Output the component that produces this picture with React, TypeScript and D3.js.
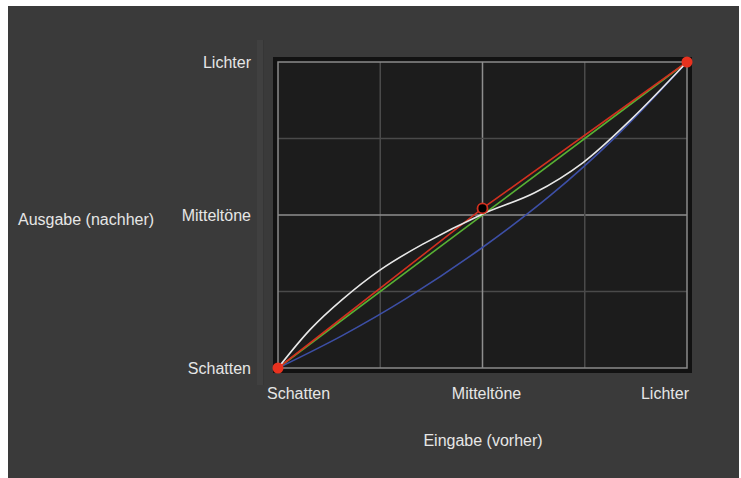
// Tone curve chart (Gradationskurve)
import React, { useEffect, useRef } from 'react';
import * as d3 from 'd3';

// Tick levels and labels (0..255 tonal range)
const tickLevels = [0, 127.5, 255];
const tickLabels = ['Schatten', 'Mitteltöne', 'Lichter'];
const gridLevels = [0, 63.75, 127.5, 191.25, 255];

// Curves: [input, output]
const whiteCurve: [number, number][] = [
  [0, 0], [20, 32], [40, 57], [64, 82], [90, 103], [127, 128],
  [160, 146], [190, 171], [220, 207], [255, 255]
];
const blueCurve: [number, number][] = [
  [0, 0], [40, 27], [80, 58], [127, 100], [170, 144], [210, 192], [255, 255]
];
const redCurve: [number, number][] = [[0, 0], [127.5, 133], [255, 255]];
const greenCurve: [number, number][] = [[0, 0], [255, 255]];
const endPoints: [number, number][] = [[0, 0], [255, 255]];
const controlPoint: [number, number] = [127.5, 133];

const W = 741;
const H = 478;

export default function App() {
  const svgRef = useRef<SVGSVGElement>(null);

  useEffect(() => {
    if (!svgRef.current) return;
    const svg = d3.select(svgRef.current);
    svg.selectAll('*').remove();

    const font = '"Liberation Sans", Arial, Helvetica, sans-serif';
    const textColor = '#e6e6e6';

    const x = d3.scaleLinear().domain([0, 255]).range([278, 687]);
    const y = d3.scaleLinear().domain([0, 255]).range([368, 62]);

    // page background
    svg.append('rect').attr('width', W).attr('height', H).attr('fill', '#ffffff');
    svg.append('rect')
      .attr('x', 8).attr('y', 6)
      .attr('width', 731).attr('height', H - 6)
      .attr('fill', '#3a3a3a');

    // faint panel divider
    svg.append('rect')
      .attr('x', 257).attr('y', 40).attr('width', 6).attr('height', 345)
      .attr('fill', '#404040');
    svg.append('line')
      .attr('x1', 263.5).attr('x2', 263.5).attr('y1', 40).attr('y2', 385)
      .attr('stroke', '#363636').attr('stroke-width', 1);

    // plot frame
    svg.append('rect')
      .attr('x', x(0) - 5).attr('y', y(255) - 5)
      .attr('width', x(255) - x(0) + 10).attr('height', y(0) - y(255) + 10)
      .attr('fill', '#121212');
    svg.append('rect')
      .attr('x', x(0)).attr('y', y(255))
      .attr('width', x(255) - x(0)).attr('height', y(0) - y(255))
      .attr('fill', '#1c1c1c');

    // grid
    const g = svg.append('g');
    gridLevels.slice(1, -1).forEach(v => {
      const isMid = v === 127.5;
      const stroke = isMid ? '#8e8e8e' : '#4a4a4a';
      g.append('line')
        .attr('x1', x(v)).attr('x2', x(v)).attr('y1', y(0)).attr('y2', y(255))
        .attr('stroke', stroke).attr('stroke-width', 1.5);
      g.append('line')
        .attr('x1', x(0)).attr('x2', x(255)).attr('y1', y(v)).attr('y2', y(v))
        .attr('stroke', stroke).attr('stroke-width', 1.5);
    });
    g.append('rect')
      .attr('x', x(0)).attr('y', y(255))
      .attr('width', x(255) - x(0)).attr('height', y(0) - y(255))
      .attr('fill', 'none').attr('stroke', '#8a8a8a').attr('stroke-width', 1.5);

    // curves
    const straight = d3.line<[number, number]>()
      .x(d => x(d[0])).y(d => y(d[1]));
    const smooth = d3.line<[number, number]>()
      .x(d => x(d[0])).y(d => y(d[1]))
      .curve(d3.curveCatmullRom.alpha(0.5));

    const curves: { data: [number, number][]; color: string; gen: any }[] = [
      { data: blueCurve, color: '#3d4fa6', gen: smooth },
      { data: greenCurve, color: '#58b134', gen: straight },
      { data: redCurve, color: '#d2301f', gen: straight },
      { data: whiteCurve, color: '#e8e8e8', gen: smooth }
    ];
    curves.forEach(c => {
      svg.append('path')
        .datum(c.data)
        .attr('d', c.gen)
        .attr('fill', 'none')
        .attr('stroke', c.color)
        .attr('stroke-width', 1.6);
    });

    // control point
    svg.append('circle')
      .attr('cx', x(controlPoint[0])).attr('cy', y(controlPoint[1]))
      .attr('r', 5)
      .attr('fill', '#000')
      .attr('stroke', '#d2301f').attr('stroke-width', 1.8);

    // end points
    svg.selectAll('.endpt')
      .data(endPoints)
      .enter()
      .append('circle')
      .attr('class', 'endpt')
      .attr('cx', d => x(d[0])).attr('cy', d => y(d[1]))
      .attr('r', 5.5)
      .attr('fill', '#e8321f');

    // y tick labels
    tickLevels.forEach((v, i) => {
      svg.append('text')
        .attr('x', 251).attr('y', y(v) + 6)
        .attr('text-anchor', 'end')
        .attr('font-family', font).attr('font-size', 16)
        .attr('fill', textColor)
        .text(tickLabels[i]);
    });

    // x tick labels
    const xAnchors = ['start', 'middle', 'end'];
    const xOffsets = [-11, 4, 2];
    tickLevels.forEach((v, i) => {
      svg.append('text')
        .attr('x', x(v) + xOffsets[i]).attr('y', 399)
        .attr('text-anchor', xAnchors[i])
        .attr('font-family', font).attr('font-size', 16)
        .attr('fill', textColor)
        .text(tickLabels[i]);
    });

    // axis titles
    svg.append('text')
      .attr('x', 18).attr('y', 225)
      .attr('font-family', font).attr('font-size', 16)
      .attr('fill', textColor)
      .text('Ausgabe (nachher)');
    svg.append('text')
      .attr('x', 483).attr('y', 446)
      .attr('text-anchor', 'middle')
      .attr('font-family', font).attr('font-size', 16)
      .attr('fill', textColor)
      .text('Eingabe (vorher)');
  }, []);

  return (
    <svg
      ref={svgRef}
      width={W}
      height={H}
      style={{ position: 'absolute', left: 0, top: 0, display: 'block' }}
    />
  );
}
